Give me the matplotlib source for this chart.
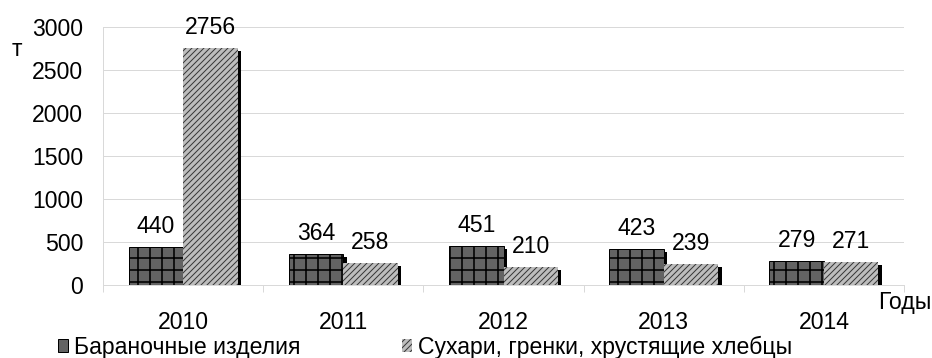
import numpy as np
import matplotlib
matplotlib.use("Agg")
import matplotlib.pyplot as plt
from matplotlib.patches import Patch

plt.rcParams['font.family'] = ['Liberation Sans', 'DejaVu Sans']
plt.rcParams['hatch.linewidth'] = 1.0

# data
years = ["2010", "2011", "2012", "2013", "2014"]
baranki = [440, 364, 451, 423, 279]
suhari = [2756, 258, 210, 239, 271]
names = ["Бараночные изделия", "Сухари, гренки, хрустящие хлебцы"]

DPI = 72
fig = plt.figure(figsize=(932 / DPI, 358 / DPI), dpi=DPI)
ax = fig.add_axes([103 / 932, 1 - 285 / 358, 801 / 932, 258 / 358])

x = np.arange(len(years))
w = 0.34
fs = 23

# shadows behind the bars
sh_dx = 3.5 / 160
sh_dy = 35
ax.bar(x - w / 2 + sh_dx, np.array(baranki) - sh_dy, w, color="black", zorder=2)
ax.bar(x + w / 2 + sh_dx, np.array(suhari) - sh_dy, w, color="black", zorder=2)

b1 = ax.bar(x - w / 2, baranki, w, color="#636363", edgecolor="black",
            linewidth=1, hatch="+", zorder=3)
b2 = ax.bar(x + w / 2, suhari, w, color="#bdbdbd", edgecolor="#383838",
            linewidth=0, hatch="////", zorder=3)
for p in b1:
    if hasattr(p, "set_hatch_linewidth"):
        p.set_hatch_linewidth(1.6)

# value labels
for xi, v in zip(x, baranki):
    ax.annotate(str(v), (xi - w / 2, v), xytext=(0, 9), textcoords="offset points",
                ha="center", va="bottom", fontsize=fs)
for xi, v in zip(x, suhari):
    ax.annotate(str(v), (xi + w / 2, v), xytext=(0, 9), textcoords="offset points",
                ha="center", va="bottom", fontsize=fs)

ax.set_xlim(-0.5, len(years) - 0.5)
ax.set_ylim(0, 3000)
ax.set_yticks(np.arange(0, 3001, 500))
ax.yaxis.grid(True, color="#d9d9d9", linewidth=1, zorder=0)
ax.set_axisbelow(True)

ax.set_xticks(x)
ax.set_xticklabels(years)
ax.set_xticks(np.arange(-0.5, len(years)), minor=True)
ax.tick_params(axis="x", which="major", length=0, pad=26, labelsize=fs)
ax.tick_params(axis="x", which="minor", length=7, color="#d9d9d9", width=1)
ax.tick_params(axis="y", length=0, pad=20, labelsize=fs)

for s in ["top", "right"]:
    ax.spines[s].set_visible(False)
for s in ["left", "bottom"]:
    ax.spines[s].set_color("#d9d9d9")
    ax.spines[s].set_linewidth(1)

fig.text(12 / 932, 1 - 50 / 358, "т", fontsize=fs, ha="left", va="center")
fig.text(932 / 932, 1 - 302 / 358, "Годы", fontsize=fs, ha="right", va="center")

# legend handles without the grid on the dark square
h1 = Patch(facecolor="#636363", edgecolor="black", linewidth=1)
h2 = Patch(facecolor="#bdbdbd", edgecolor="#383838", linewidth=0, hatch="////")
leg = fig.legend(handles=[h1, h2], labels=names, loc="center left",
                 bbox_to_anchor=(58 / 932, 1 - 347 / 358), ncol=2, frameon=False,
                 fontsize=fs, handlelength=0.45, handleheight=0.45,
                 handletextpad=0.25, columnspacing=4.4, borderpad=0,
                 borderaxespad=0)

fig.savefig("out.png", dpi=DPI)
